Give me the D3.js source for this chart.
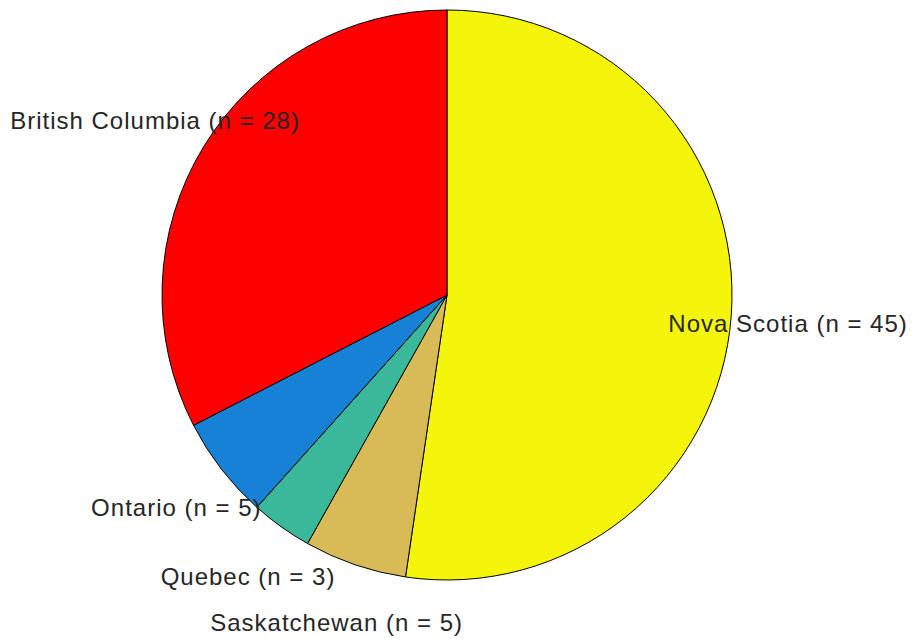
<!DOCTYPE html>
<html>
<head>
<meta charset="utf-8">
<script src="https://cdn.jsdelivr.net/npm/d3@7"></script>
<style>
  body { margin: 0; background: #fff; }
  .pie-label { font-family: "Liberation Sans", Arial, sans-serif; font-size: 24px; fill: #262626; letter-spacing: 1px; }
</style>
</head>
<body>
<svg id="chart" width="913" height="639"></svg>
<script>
// slices in drawing order, clockwise from 12 o'clock
const provinces = ["Nova Scotia", "Saskatchewan", "Quebec", "Ontario", "British Columbia"];
const counts = [45, 5, 3, 5, 28];
const sliceColors = ["#f5f50c", "#d8bb57", "#39b89a", "#1782d5", "#ff0000"];

const mainSvg = d3.select("#chart");
const cx = 447, cy = 295, radius = 285;

const rows = provinces.map((p, i) => ({ name: p, n: counts[i], color: sliceColors[i] }));

const pie = d3.pie()
    .value(d => d.n)
    .sort(null)
    .startAngle(0)
    .endAngle(2 * Math.PI);

const arc = d3.arc()
    .innerRadius(0)
    .outerRadius(radius);

const g = mainSvg.append("g")
    .attr("transform", `translate(${cx},${cy})`);

const slices = pie(rows);

g.selectAll("path.slice")
  .data(slices)
  .enter().append("path")
    .attr("class", "slice")
    .attr("d", arc)
    .attr("fill", d => d.data.color)
    .attr("stroke", "#000")
    .attr("stroke-width", 1)
    .attr("stroke-linejoin", "round");

// labels sit at 1.2 * radius on each slice's bisector, centred
function labelPos(d) {
    const mid = (d.startAngle + d.endAngle) / 2;
    const dist = radius * 1.2;
    return [dist * Math.sin(mid), -dist * Math.cos(mid)];
}

g.selectAll("text.pie-label")
  .data(slices)
  .enter().append("text")
    .attr("class", "pie-label")
    .attr("x", d => labelPos(d)[0])
    .attr("y", d => labelPos(d)[1] + 12)
    .attr("text-anchor", "middle")
    .text(d => `${d.data.name} (n = ${d.data.n})`);
</script>
</body>
</html>
